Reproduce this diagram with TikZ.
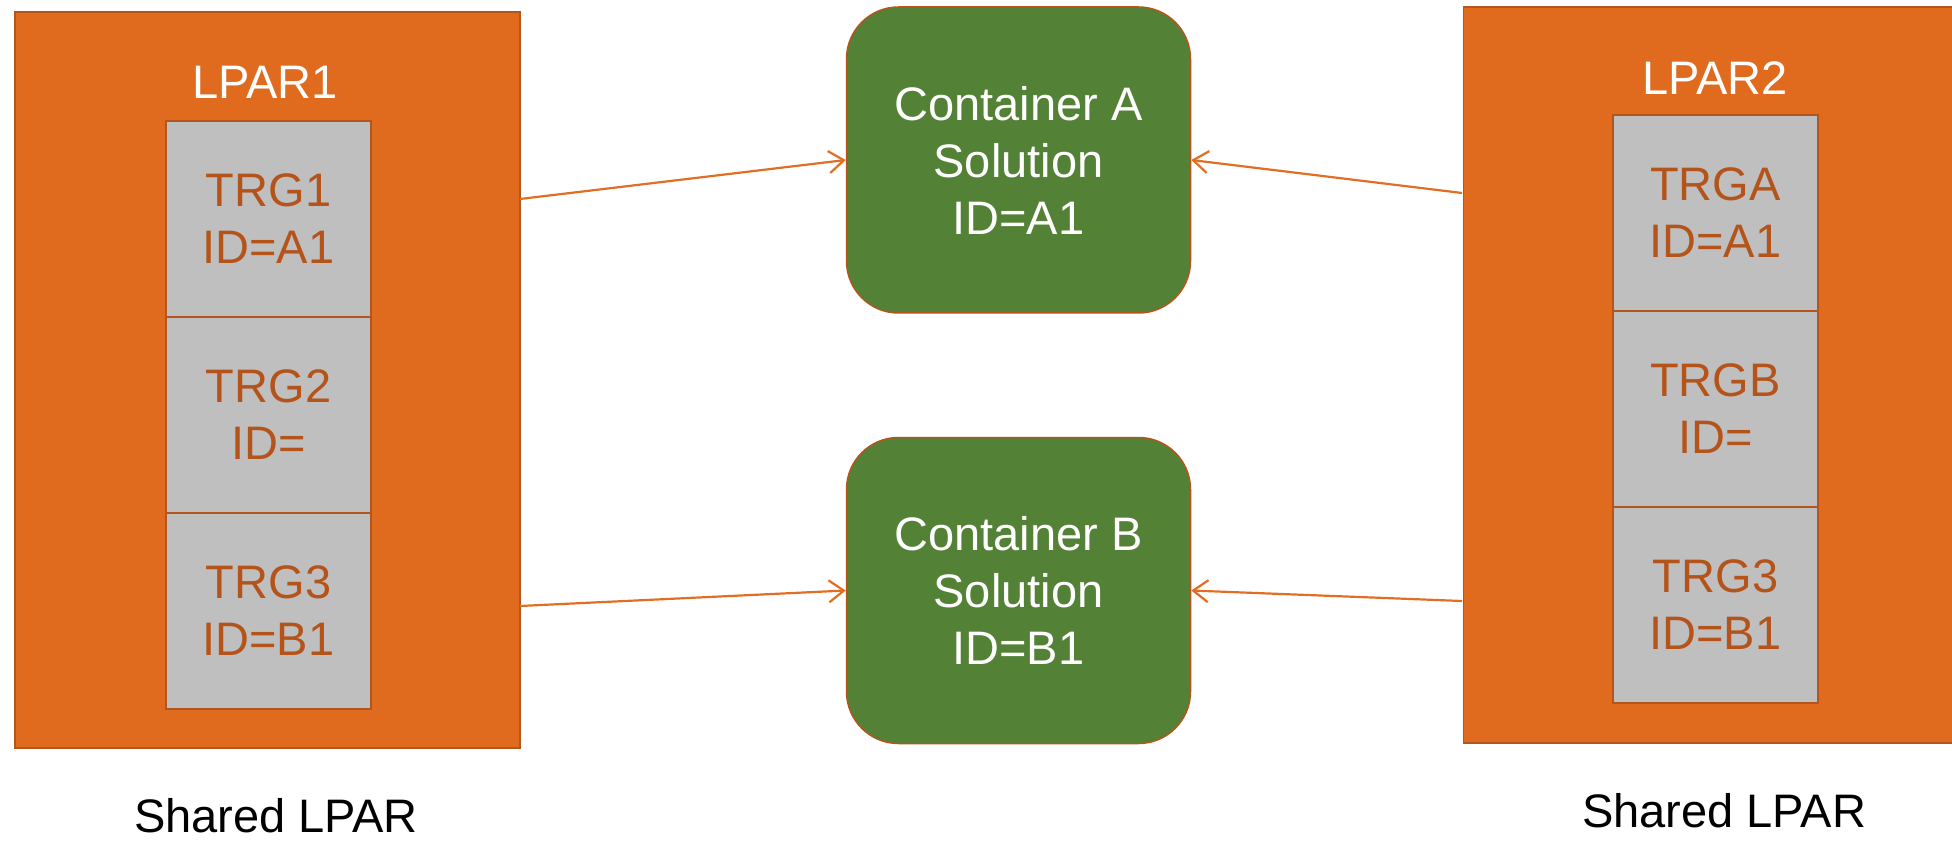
\documentclass[tikz,border=0pt]{standalone}
\usepackage{fontspec}
\setmainfont{Liberation Sans}
\usetikzlibrary{arrows.meta}
\definecolor{lparfill}{RGB}{224,107,31}
\definecolor{lparline}{RGB}{178,86,30}
\definecolor{cellfill}{RGB}{191,191,191}
\definecolor{celltext}{RGB}{181,84,26}
\definecolor{contfill}{RGB}{83,129,53}
\definecolor{arrcol}{RGB}{226,110,36}
\tikzset{
  lparbox/.style={draw=lparline, line width=1.5pt, fill=lparfill, minimum width=505pt, minimum height=736pt, inner sep=0pt},
  cellbox/.style={draw=lparline, line width=2pt, fill=cellfill, minimum width=205pt, minimum height=196pt, inner sep=0pt, text=celltext, align=center, font=\fontsize{47}{57}\selectfont},
  contbox/.style={draw=lparline, line width=1.5pt, fill=contfill, rounded corners=52pt, minimum width=344pt, minimum height=306pt, inner sep=0pt, text=white, align=center, font=\fontsize{47}{57}\selectfont},
  lbl/.style={inner sep=0pt, font=\fontsize{47}{57}\selectfont},
  arr/.style={draw=arrcol, line width=2.2pt, -{Straight Barb[length=15pt,width=22pt,line width=2.2pt]}}
}
\begin{document}
\begin{tikzpicture}[x=1pt,y=-1pt]
\useasboundingbox (0,0) rectangle (1952,842);
% LPAR boxes
\node[lparbox] (lpar1) at (267.5,380) {};
\node[lparbox] (lpar2) at (1716,375) {};
\node[lbl, text=white] (l1) at (265,82) {LPAR1};
\node[lbl, text=white] (l2) at (1715,78) {LPAR2};
% cells LPAR1
\node[cellbox] (t1) at (268.5,219) {TRG1\\ID=A1};
\node[cellbox] (t2) at (268.5,415) {TRG2\\ID=};
\node[cellbox] (t3) at (268.5,611) {TRG3\\ID=B1};
% cells LPAR2
\node[cellbox] (ta) at (1715.5,213) {TRGA\\ID=A1};
\node[cellbox] (tb) at (1715.5,409) {TRGB\\ID=};
\node[cellbox] (tc) at (1715.5,605) {TRG3\\ID=B1};
% containers
\node[contbox] (ca) at (1018.5,160) {Container A\\Solution\\ID=A1};
\node[contbox] (cb) at (1018.5,590.5) {Container B\\Solution\\ID=B1};
% arrows
\coordinate (s1) at (520,199);
\coordinate (s2) at (520,606);
\coordinate (s3) at (1462,193);
\coordinate (s4) at (1462,601);
\draw[arr] (s1) -- (ca.west);
\draw[arr] (s2) -- (cb.west);
\draw[arr] (s3) -- (ca.east);
\draw[arr] (s4) -- (cb.east);
% captions
\node[lbl] (sh1) at (276,816) {Shared LPAR};
\node[lbl] (sh2) at (1724,811) {Shared LPAR};
\end{tikzpicture}
\end{document}
